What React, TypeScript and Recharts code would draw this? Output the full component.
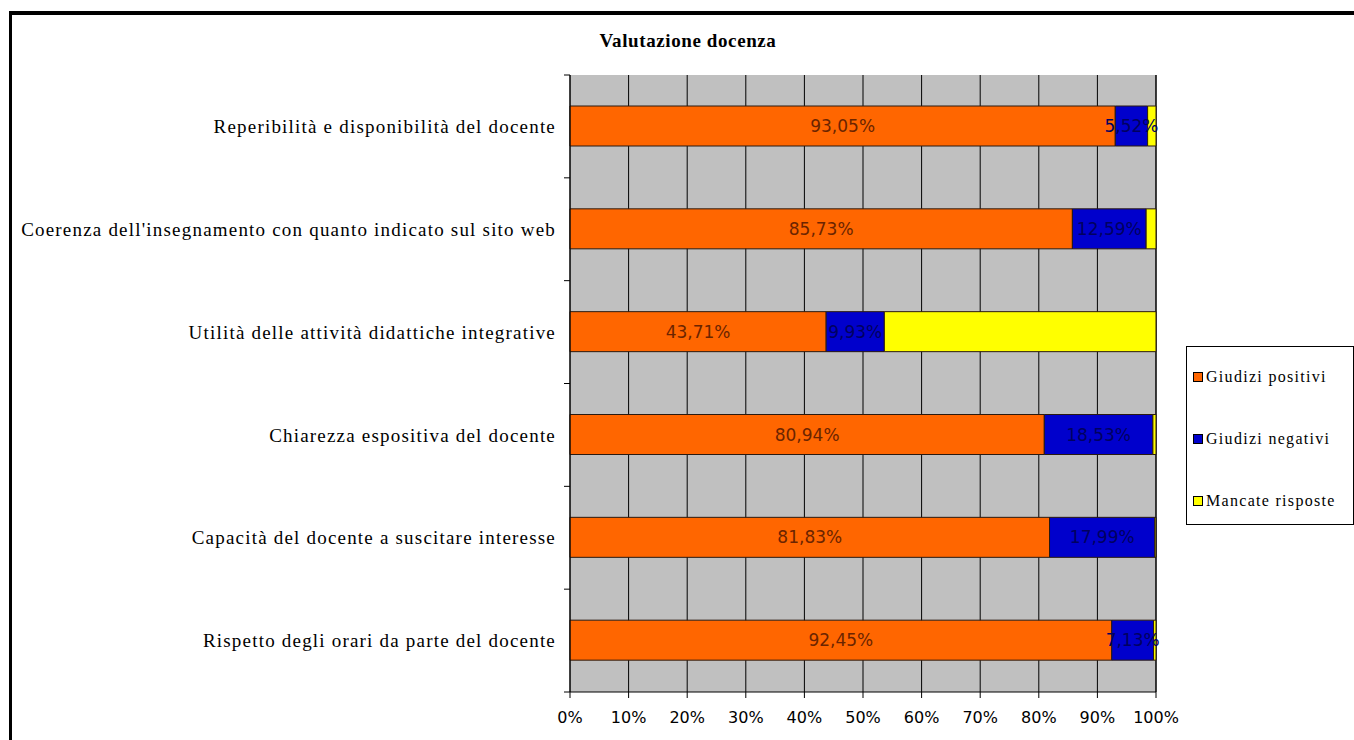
import { BarChart, Bar, XAxis, YAxis, CartesianGrid, LabelList } from "recharts";

const categories = [
  "Reperibilità e disponibilità del docente",
  "Coerenza dell'insegnamento con quanto indicato sul sito web",
  "Utilità delle attività didattiche integrative",
  "Chiarezza espositiva del docente",
  "Capacità del docente a suscitare interesse",
  "Rispetto degli orari da parte del docente",
];
const positivi = [93.05, 85.73, 43.71, 80.94, 81.83, 92.45];
const negativi = [5.52, 12.59, 9.93, 18.53, 17.99, 7.13];
const mancate = [1.43, 1.68, 46.36, 0.53, 0.18, 0.42];
const xTicks = [0, 10, 20, 30, 40, 50, 60, 70, 80, 90, 100];

const series = [
  { key: "positivi", name: "Giudizi positivi", color: "#FF6600", label: "#6b2400" },
  { key: "negativi", name: "Giudizi negativi", color: "#0000CC", label: "#000060" },
  { key: "mancate", name: "Mancate risposte", color: "#FFFF00", label: "" },
];

const data = categories.map((c, i) => ({
  name: c,
  positivi: positivi[i],
  negativi: negativi[i],
  mancate: mancate[i],
}));

const W = 1354;
const H = 740;
const TOP = 75;
const XAXIS_H = 48;
const BAND = (H - TOP - XAXIS_H) / categories.length;

const fmt = (v: number) => v.toFixed(2).replace(".", ",") + "%";

function CatTick(props: any) {
  const { x, y, payload, index } = props;
  return (
    <g>
      <text
        x={x - 14}
        y={y}
        dy="0.35em"
        textAnchor="end"
        fontFamily="Liberation Serif"
        fontSize={19}
        letterSpacing={1.2}
        fill="#000"
      >
        {payload.value}
      </text>
      <line x1={x - 6} x2={x} y1={y - BAND / 2} y2={y - BAND / 2} stroke="#000" />
      {index === categories.length - 1 && (
        <line x1={x - 6} x2={x} y1={y + BAND / 2} y2={y + BAND / 2} stroke="#000" />
      )}
    </g>
  );
}

export default function App() {
  return (
    <div style={{ position: "fixed", left: 0, top: 0, width: W, height: H, background: "#fff" }}>
      <div
        style={{
          position: "absolute",
          left: 9,
          top: 11,
          width: W - 9,
          height: H - 11,
          borderTop: "4px solid #000",
          borderLeft: "3px solid #000",
          boxSizing: "border-box",
        }}
      />
      <div
        style={{
          position: "absolute",
          left: 0,
          width: 1376,
          top: 30,
          textAlign: "center",
          fontFamily: "Liberation Serif",
          fontWeight: "bold",
          fontSize: 19,
          letterSpacing: 0.6,
        }}
      >
        Valutazione docenza
      </div>
      <div style={{ position: "absolute", left: 0, top: 0 }}>
        <BarChart
          width={W}
          height={H}
          data={data}
          layout="vertical"
          margin={{ top: TOP, right: 198, bottom: 0, left: 10 }}
          barSize={40}
        >
          <CartesianGrid fill="#C0C0C0" horizontal={false} stroke="#000" strokeOpacity={1} />
          <XAxis
            type="number"
            domain={[0, 100]}
            ticks={xTicks}
            tickFormatter={(v) => `${v}%`}
            height={XAXIS_H}
            axisLine={{ stroke: "#000" }}
            tickLine={{ stroke: "#000" }}
            tickSize={6}
            tickMargin={14}
            tick={{ fontFamily: "DejaVu Sans", fontSize: 16, fill: "#000" }}
            interval={0}
          />
          <YAxis
            type="category"
            dataKey="name"
            width={560}
            axisLine={{ stroke: "#000" }}
            tickLine={false}
            tickSize={0}
            tickMargin={0}
            tick={<CatTick />}
            interval={0}
          />
          {series.map((s) => (
            <Bar
              key={s.key}
              dataKey={s.key}
              name={s.name}
              stackId="a"
              fill={s.color}
              stroke="#2a1a10"
              strokeWidth={1}
              isAnimationActive={false}
            >
              {s.label && (
                <LabelList
                  dataKey={s.key}
                  position="center"
                  formatter={(v: any) => fmt(Number(v))}
                  fill={s.label}
                  fontFamily="DejaVu Sans"
                  fontSize={17}
                />
              )}
            </Bar>
          ))}
        </BarChart>
      </div>
      <div
        style={{
          position: "absolute",
          left: 1186,
          top: 346,
          width: 168,
          height: 179,
          border: "1px solid #000",
          boxSizing: "border-box",
          background: "#fff",
          fontFamily: "Liberation Serif",
          fontSize: 16,
          letterSpacing: 1.3,
        }}
      >
        {series.map((s, i) => (
          <div
            key={s.key}
            style={{
              position: "absolute",
              left: 6,
              top: 21 + i * 62,
              display: "flex",
              alignItems: "center",
              whiteSpace: "nowrap",
            }}
          >
            <span
              style={{
                display: "inline-block",
                width: 8,
                height: 8,
                background: s.color,
                border: "1px solid #000",
                marginRight: 3,
              }}
            />
            {s.name}
          </div>
        ))}
      </div>
    </div>
  );
}
